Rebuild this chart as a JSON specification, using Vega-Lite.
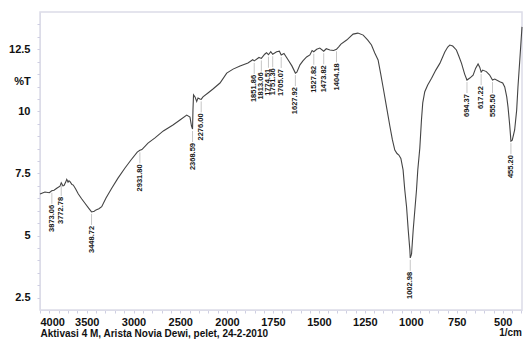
{
  "$schema": "https://vega.github.io/schema/vega-lite/v6.json",
  "width": 482,
  "height": 298,
  "autosize": "none",
  "padding": {"left": 40, "top": 12, "right": 2, "bottom": 30},
  "background": "white",
  "title": {
    "text": "1/cm",
    "orient": "bottom",
    "anchor": "end",
    "frame": "group",
    "offset": -10,
    "fontSize": 10,
    "fontWeight": "bold",
    "font": "Liberation Sans",
    "color": "#111",
    "baseline": "top"
  },
  "datasets": {
    "spectrum": [
      {"wn": 4000, "t": 6.67}, {"wn": 3947, "t": 6.75}, {"wn": 3900, "t": 6.72}, {"wn": 3875, "t": 6.80},
      {"wn": 3850, "t": 6.82}, {"wn": 3821, "t": 6.90}, {"wn": 3786, "t": 6.99}, {"wn": 3772.78, "t": 7.12},
      {"wn": 3755, "t": 7.00}, {"wn": 3743, "t": 7.01}, {"wn": 3725, "t": 7.15}, {"wn": 3714, "t": 7.26},
      {"wn": 3700, "t": 7.15}, {"wn": 3690, "t": 7.20}, {"wn": 3679, "t": 7.17}, {"wn": 3658, "t": 7.05},
      {"wn": 3644, "t": 7.03}, {"wn": 3620, "t": 6.88}, {"wn": 3590, "t": 6.67}, {"wn": 3555, "t": 6.48},
      {"wn": 3519, "t": 6.30}, {"wn": 3480, "t": 6.10}, {"wn": 3448.72, "t": 5.95}, {"wn": 3420, "t": 5.98},
      {"wn": 3401, "t": 6.03}, {"wn": 3370, "t": 6.08}, {"wn": 3340, "t": 6.16}, {"wn": 3294, "t": 6.51},
      {"wn": 3233, "t": 6.90}, {"wn": 3166, "t": 7.31}, {"wn": 3091, "t": 7.72}, {"wn": 3027, "t": 8.04},
      {"wn": 2960, "t": 8.36}, {"wn": 2931.8, "t": 8.43}, {"wn": 2910, "t": 8.46}, {"wn": 2845, "t": 8.72},
      {"wn": 2770, "t": 8.93}, {"wn": 2681, "t": 9.21}, {"wn": 2578, "t": 9.45}, {"wn": 2503, "t": 9.65},
      {"wn": 2431, "t": 9.85}, {"wn": 2396, "t": 9.77}, {"wn": 2380, "t": 9.41}, {"wn": 2368.59, "t": 9.29},
      {"wn": 2364, "t": 10.05}, {"wn": 2358, "t": 10.66}, {"wn": 2342, "t": 10.58}, {"wn": 2324, "t": 10.40},
      {"wn": 2310, "t": 10.54}, {"wn": 2290, "t": 10.50}, {"wn": 2276, "t": 10.48}, {"wn": 2257, "t": 10.58},
      {"wn": 2200, "t": 10.75}, {"wn": 2150, "t": 10.90}, {"wn": 2075, "t": 11.14}, {"wn": 2003, "t": 11.54},
      {"wn": 1967, "t": 11.70}, {"wn": 1929, "t": 11.83}, {"wn": 1886, "t": 11.95}, {"wn": 1860, "t": 12.08},
      {"wn": 1851.86, "t": 12.03}, {"wn": 1826, "t": 12.17}, {"wn": 1813.06, "t": 12.13}, {"wn": 1795, "t": 12.30},
      {"wn": 1785, "t": 12.36}, {"wn": 1774.51, "t": 12.28}, {"wn": 1762, "t": 12.40}, {"wn": 1751.36, "t": 12.30},
      {"wn": 1730, "t": 12.40}, {"wn": 1715, "t": 12.42}, {"wn": 1705.07, "t": 12.27}, {"wn": 1690, "t": 12.33},
      {"wn": 1667, "t": 12.07}, {"wn": 1647, "t": 11.83}, {"wn": 1627.92, "t": 11.54}, {"wn": 1620, "t": 11.58},
      {"wn": 1603, "t": 11.87}, {"wn": 1587, "t": 12.03}, {"wn": 1567, "t": 12.19}, {"wn": 1549, "t": 12.27},
      {"wn": 1537, "t": 12.45}, {"wn": 1527.82, "t": 12.40}, {"wn": 1512, "t": 12.50}, {"wn": 1495, "t": 12.55},
      {"wn": 1473.82, "t": 12.42}, {"wn": 1460, "t": 12.52}, {"wn": 1440, "t": 12.47}, {"wn": 1420, "t": 12.45},
      {"wn": 1404.18, "t": 12.50}, {"wn": 1390, "t": 12.62}, {"wn": 1380, "t": 12.71}, {"wn": 1349, "t": 12.87},
      {"wn": 1314, "t": 13.11}, {"wn": 1288, "t": 13.15}, {"wn": 1259, "t": 13.07}, {"wn": 1234, "t": 12.87},
      {"wn": 1214, "t": 12.67}, {"wn": 1196, "t": 12.35}, {"wn": 1178, "t": 12.07}, {"wn": 1165, "t": 11.56},
      {"wn": 1150, "t": 10.94}, {"wn": 1130, "t": 10.09}, {"wn": 1114, "t": 9.41}, {"wn": 1100, "t": 8.85},
      {"wn": 1087, "t": 8.44}, {"wn": 1075, "t": 8.30}, {"wn": 1065, "t": 8.24}, {"wn": 1054, "t": 8.10},
      {"wn": 1042, "t": 7.64}, {"wn": 1033, "t": 6.85}, {"wn": 1023, "t": 6.15}, {"wn": 1014, "t": 5.22},
      {"wn": 1005, "t": 4.40}, {"wn": 1002.98, "t": 4.10}, {"wn": 996, "t": 4.25}, {"wn": 987, "t": 5.22},
      {"wn": 978, "t": 6.03}, {"wn": 969, "t": 6.83}, {"wn": 962, "t": 7.64}, {"wn": 951, "t": 8.52},
      {"wn": 942, "t": 9.65}, {"wn": 935, "t": 10.34}, {"wn": 924, "t": 10.79}, {"wn": 908, "t": 11.06},
      {"wn": 887, "t": 11.33}, {"wn": 864, "t": 11.66}, {"wn": 842, "t": 11.93}, {"wn": 815, "t": 12.39},
      {"wn": 799, "t": 12.59}, {"wn": 788, "t": 12.67}, {"wn": 772, "t": 12.63}, {"wn": 752, "t": 12.47},
      {"wn": 739, "t": 12.23}, {"wn": 724, "t": 11.93}, {"wn": 707, "t": 11.50}, {"wn": 694.37, "t": 11.26},
      {"wn": 679, "t": 11.34}, {"wn": 661, "t": 11.46}, {"wn": 647, "t": 11.74}, {"wn": 634, "t": 11.91},
      {"wn": 625, "t": 11.78}, {"wn": 617.22, "t": 11.58}, {"wn": 609, "t": 11.66}, {"wn": 589, "t": 11.60},
      {"wn": 576, "t": 11.50}, {"wn": 571, "t": 11.46}, {"wn": 555.5, "t": 11.26}, {"wn": 543, "t": 11.30},
      {"wn": 516, "t": 11.19}, {"wn": 500, "t": 11.14}, {"wn": 489, "t": 10.98}, {"wn": 478, "t": 10.58},
      {"wn": 471, "t": 10.17}, {"wn": 462, "t": 9.45}, {"wn": 455.2, "t": 8.80}, {"wn": 448, "t": 8.84},
      {"wn": 435, "t": 9.25}, {"wn": 424, "t": 10.05}, {"wn": 417, "t": 10.98}, {"wn": 407, "t": 12.07},
      {"wn": 398, "t": 13.07}, {"wn": 395, "t": 13.40}
    ],
    "peaks": [
      {"wn": 3873.06, "t": 6.80}, {"wn": 3772.78, "t": 7.12}, {"wn": 3448.72, "t": 5.95},
      {"wn": 2931.80, "t": 8.43}, {"wn": 2368.59, "t": 9.29}, {"wn": 2276.00, "t": 10.48},
      {"wn": 1851.86, "t": 12.03}, {"wn": 1813.06, "t": 12.13}, {"wn": 1774.51, "t": 12.28},
      {"wn": 1751.36, "t": 12.30}, {"wn": 1705.07, "t": 12.27}, {"wn": 1627.92, "t": 11.54},
      {"wn": 1527.82, "t": 12.40}, {"wn": 1473.82, "t": 12.42}, {"wn": 1404.18, "t": 12.50},
      {"wn": 1002.98, "t": 4.10}, {"wn": 694.37, "t": 11.26}, {"wn": 617.22, "t": 11.58},
      {"wn": 555.50, "t": 11.26}, {"wn": 455.20, "t": 8.80}
    ]
  },
  "encoding": {
    "x": {
      "field": "wn",
      "type": "quantitative",
      "scale": {"type": "linear", "domain": [4000, 2000, 395], "range": [0, 187, 482], "nice": false, "zero": false},
      "axis": {
        "title": "Aktivasi 4 M, Arista Novia Dewi, pelet, 24-2-2010",
        "titleX": 0,
        "titleY": 23,
        "titleAlign": "left",
        "titleAnchor": "start",
        "titleBaseline": "middle",
        "titleFontSize": 10,
        "values": [4000,3900,3800,3700,3600,3500,3400,3300,3200,3100,3000,2900,2800,2700,2600,2500,2400,2300,2200,2100,2000,1950,1900,1850,1800,1750,1700,1650,1600,1550,1500,1450,1400,1350,1300,1250,1200,1150,1100,1050,1000,950,900,850,800,750,700,650,600,550,500,450,400],
        "labelExpr": "((datum.value >= 2000 && datum.value % 500 === 0) || (datum.value < 2000 && datum.value % 250 === 0)) ? '' + datum.value : ''",
        "labelPadding": 3,
        "tickSize": 3,
        "grid": false
      }
    },
    "y": {
      "field": "t",
      "type": "quantitative",
      "scale": {"domain": [2, 14], "nice": false, "zero": false},
      "axis": {
        "title": "%T",
        "titleAngle": 0,
        "titleX": -18,
        "titleY": 69,
        "titleAlign": "center",
        "titleBaseline": "middle",
        "titleFontSize": 11,
        "values": [2.5,3,3.5,4,4.5,5,5.5,6,6.5,7,7.5,8,8.5,9,9.5,10,10.5,11,11.5,12,12.5,13,13.5],
        "labelExpr": "datum.value % 2.5 === 0 ? '' + datum.value : ''",
        "labelPadding": 7,
        "tickSize": 3,
        "grid": false
      }
    }
  },
  "layer": [
    {
      "data": {"name": "spectrum"},
      "mark": {"type": "line", "color": "#444444", "strokeWidth": 1.1, "interpolate": "linear"}
    },
    {
      "data": {"name": "peaks"},
      "mark": {"type": "rule", "color": "#b8b8b8", "strokeWidth": 0.8, "yOffset": 2, "y2Offset": 13},
      "encoding": {"y2": {"field": "t"}}
    },
    {
      "data": {"name": "peaks"},
      "mark": {"type": "text", "angle": 270, "align": "right", "baseline": "middle", "yOffset": 14, "fontSize": 7.5, "fontWeight": "bold", "font": "Liberation Sans", "color": "#1a1a1a"},
      "encoding": {"text": {"field": "wn", "type": "quantitative", "format": ".2f"}}
    }
  ],
  "config": {
    "view": {"stroke": "#dcdce8", "strokeWidth": 1.5},
    "axis": {
      "domainColor": "#dcdce8",
      "tickColor": "#cfcfe2",
      "labelFont": "Liberation Sans",
      "labelFontWeight": "bold",
      "labelFontSize": 11,
      "labelColor": "#111",
      "titleFont": "Liberation Sans",
      "titleFontWeight": "bold",
      "titleColor": "#111"
    }
  }
}
